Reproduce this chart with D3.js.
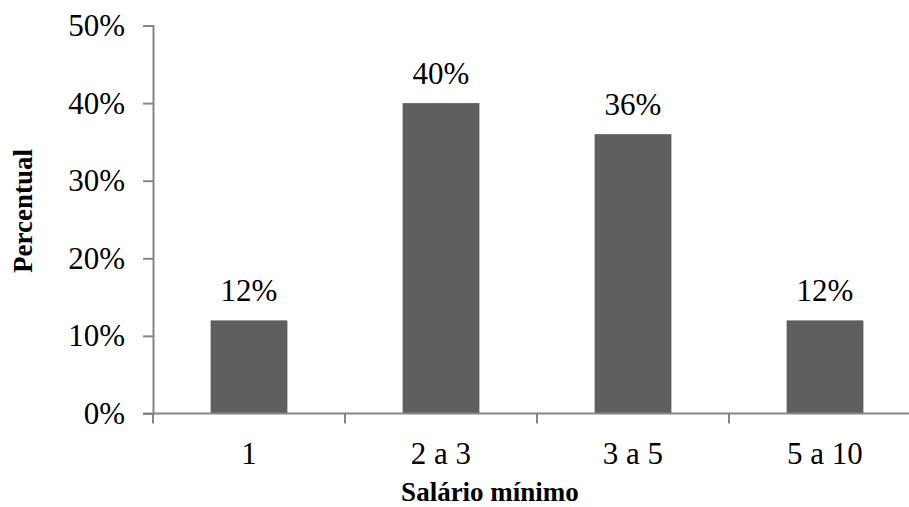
<!DOCTYPE html>
<html>
<head>
<meta charset="utf-8">
<script src="https://cdn.jsdelivr.net/npm/d3@7"></script>
<style>
  body { margin: 0; background: #fff; }
  text { font-family: "Liberation Serif", "Times New Roman", serif; }
</style>
</head>
<body>
<script>
// Chart data
var categories = ['1', '2 a 3', '3 a 5', '5 a 10'];
var values = [12, 40, 36, 12];
var yTicks = [0, 10, 20, 30, 40, 50];

var width = 909, height = 507;
var plotLeft = 153, plotBottom = 413.5, plotTop = 25.5, plotRight = 921;

var svg = d3.select('body').append('svg')
    .attr('width', width)
    .attr('height', height);

var x = d3.scaleBand()
    .domain(categories)
    .range([plotLeft, plotRight])
    .paddingInner(0.6)
    .paddingOuter(0.3);

var y = d3.scaleLinear()
    .domain([0, 50])
    .range([plotBottom, plotTop]);

var axisColor = '#868686';

// Bars
svg.selectAll('rect.bar')
    .data(values)
    .enter()
    .append('rect')
    .attr('class', 'bar')
    .attr('x', function (d, i) { return x(categories[i]); })
    .attr('y', function (d) { return y(d); })
    .attr('width', x.bandwidth())
    .attr('height', function (d) { return plotBottom - y(d); })
    .attr('fill', '#5f5f5f');

// Value labels
svg.selectAll('text.val')
    .data(values)
    .enter()
    .append('text')
    .attr('class', 'val')
    .attr('x', function (d, i) { return x(categories[i]) + x.bandwidth() / 2; })
    .attr('y', function (d) { return y(d) - 19; })
    .attr('text-anchor', 'middle')
    .style('font-size', '31px')
    .text(function (d) { return d + '%'; });

// Y axis
var yAxis = svg.append('g')
    .attr('transform', 'translate(' + plotLeft + ',0)')
    .call(d3.axisLeft(y).tickValues(yTicks).tickSize(10).tickPadding(18)
        .tickFormat(function (d) { return d + '%'; }));
yAxis.select('.domain').attr('stroke', axisColor).attr('stroke-width', 2);
yAxis.selectAll('.tick line').attr('stroke', axisColor).attr('stroke-width', 2);
yAxis.selectAll('.tick text')
    .style('font-size', '31px')
    .style('font-family', '"Liberation Serif", serif')
    .attr('fill', '#000');

// X axis (ticks at category boundaries)
var xAxis = svg.append('g')
    .attr('transform', 'translate(0,' + plotBottom + ')');
xAxis.append('line')
    .attr('x1', plotLeft - 10).attr('x2', plotRight)
    .attr('stroke', axisColor).attr('stroke-width', 2);
var step = x.step();
xAxis.selectAll('line.tick')
    .data(categories)
    .enter()
    .append('line')
    .attr('class', 'tick')
    .attr('x1', function (d) { return x(d) - step * 0.3; })
    .attr('x2', function (d) { return x(d) - step * 0.3; })
    .attr('y1', 0).attr('y2', 10)
    .attr('stroke', axisColor).attr('stroke-width', 2);
xAxis.selectAll('text.cat')
    .data(categories)
    .enter()
    .append('text')
    .attr('class', 'cat')
    .attr('x', function (d) { return x(d) + x.bandwidth() / 2; })
    .attr('y', 50)
    .attr('text-anchor', 'middle')
    .style('font-size', '31px')
    .text(function (d) { return d; });

// Axis titles
svg.append('text')
    .attr('x', 490)
    .attr('y', 501)
    .attr('text-anchor', 'middle')
    .style('font-size', '27px')
    .style('font-weight', 'bold')
    .text('Salário mínimo');

svg.append('text')
    .attr('transform', 'translate(32,211) rotate(-90)')
    .attr('text-anchor', 'middle')
    .style('font-size', '27px')
    .style('font-weight', 'bold')
    .text('Percentual');
</script>
</body>
</html>
